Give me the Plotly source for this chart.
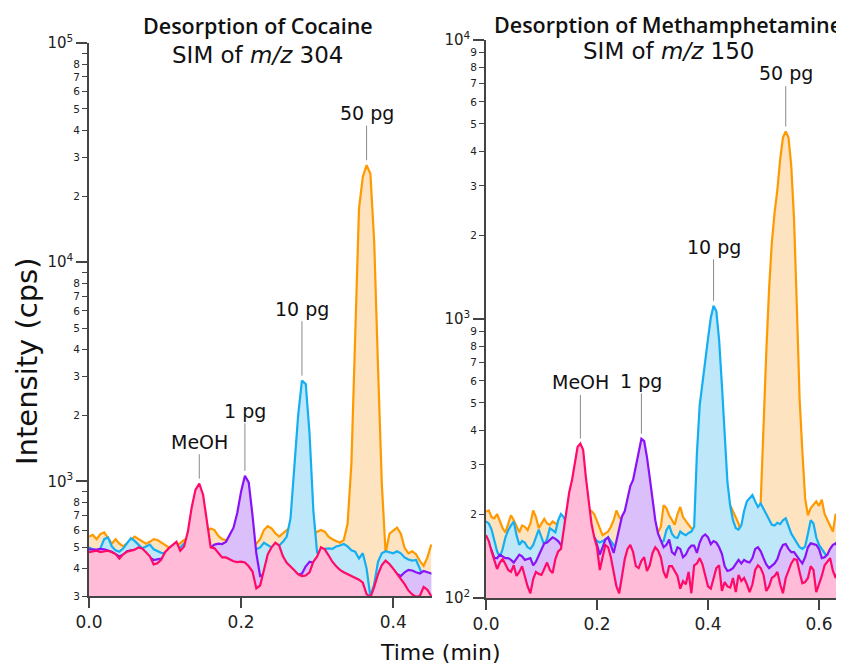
import numpy as np
import plotly.graph_objects as go

STEP = 0.005  # sampling interval of the traces (min)

# ---------------- Cocaine, SIM m/z 304 (left panel) ----------------
left_meoh = [475, 478, 483, 476, 478, 483, 475, 466, 445, 465,
             478, 483, 488, 500, 494, 475, 455, 418, 423, 440,
             475, 496, 515, 530, 483, 505, 590, 760, 915, 976,
             870, 640, 500, 495, 470, 450, 450, 440, 432, 428,
             430, 427, 410, 388, 325, 335, 400, 465, 500, 525,
             510, 455, 425, 410, 393, 377, 370, 372, 385, 430,
             455, 500, 490, 460, 430, 410, 395, 385, 378, 372,
             364, 356, 345, 306, 296, 330, 377, 415, 435, 420,
             400, 380, 360, 340, 318, 305, 298, 300, 330, 320,
             300]
left_1pg = [490, 490, 488, 492, 490, 483, 478, 466, 455, 462,
            480, 485, 483, 488, 485, 470, 450, 438, 440, 445,
            455, 480, 500, 490, 480, 490, 495, 490, 480, 470,
            480, 490, 500, 515, 520, 518, 530, 570, 615, 720,
            900, 1060, 990, 700, 470, 370, 375, 400, 440, 440,
            420, 400, 390, 385, 380, 375, 380, 410, 430, 425,
            430, 440, 470, 445, 415, 400, 385, 375, 368, 362,
            355, 348, 338, 300, 294, 320, 365, 400, 420, 410,
            395, 378, 370, 385, 395, 392, 385, 380, 390, 385,
            380]
left_10pg = [500, 490, 480, 495, 545, 555, 505, 485, 478, 495,
             520, 550, 535, 515, 495, 505, 515, 490, 480, 472,
             470, 480, 490, 495, 500, 520, 510, 505, 500, 500,
             505, 510, 500, 495, 490, 485, 480, 475, 470, 470,
             470, 470, 475, 480, 490, 500, 525, 510, 500, 505,
             510, 530, 560, 680, 1150, 2000, 2880, 2780, 1650, 736,
             470, 485, 492, 495, 492, 505, 510, 518, 505, 485,
             478, 445, 470, 400, 298, 340, 430, 470, 480, 475,
             470, 480, 470, 450, 440, 435, 438, 400, 360, 370,
             380]
left_50pg = [560, 570, 545, 575, 585, 550, 520, 545, 520, 505,
             520, 540, 560, 545, 530, 520, 530, 545, 540, 525,
             515, 500, 490, 505, 520, 540, 550, 560, 570, 575,
             575, 590, 610, 600, 565, 545, 540, 530, 520, 520,
             520, 520, 515, 510, 520, 545, 600, 625, 610, 580,
             560, 580, 600, 620, 600, 580, 570, 560, 560, 570,
             590, 600, 590, 560, 545, 535, 525, 540, 640, 1200,
             4780, 17500, 24500, 27700, 25300, 12400, 3340, 980, 470, 577,
             596, 615, 577, 498, 470, 480, 465, 434, 412, 450,
             515]

# ------------- Methamphetamine, SIM m/z 150 (right panel) -------------
right_meoh = [168, 160, 147, 135, 127, 134, 138, 132, 126, 124,
              131, 120, 124, 130, 120, 110, 104, 117, 124, 122,
              121, 128, 134, 126, 123, 138, 147, 150, 175, 205,
              240, 265, 310, 348, 358, 340, 270, 218, 185, 165,
              152, 126, 140, 155, 152, 140, 124, 110, 104, 118,
              138, 150, 155, 146, 130, 128, 136, 140, 125, 131,
              145, 152, 148, 140, 124, 118, 130, 130, 125, 120,
              108, 115, 112, 124, 104, 131, 133, 139, 132, 120,
              110, 108, 118, 128, 131, 106, 114, 110, 109, 118,
              105, 121, 115, 118, 112, 105, 112, 126, 131, 128,
              121, 106, 110, 118, 120, 124, 112, 104, 118, 126,
              133, 138, 137, 124, 113, 114, 118, 130, 126, 105,
              112, 120, 131, 135, 139, 125, 118, 128, 131, 127]
right_1pg = [162, 156, 148, 139, 139, 143, 141, 139, 139, 137,
             134, 138, 143, 141, 137, 138, 139, 131, 135, 142,
             150, 157, 158, 162, 165, 163, 160, 155, 150, 148,
             145, 142, 140, 140, 142, 145, 150, 155, 160, 165,
             155, 143, 152, 162, 165, 155, 145, 160, 180, 196,
             205, 230, 252, 265, 300, 335, 372, 365, 320, 270,
             225, 190, 170, 160, 152, 155, 162, 146, 143, 152,
             150, 140, 143, 150, 154, 154, 145, 158, 166, 169,
             165, 156, 160, 158, 152, 144, 130, 125, 126, 128,
             133, 137, 133, 137, 135, 134, 139, 150, 152, 147,
             139, 132, 128, 131, 133, 138, 148, 155, 156, 150,
             146, 146, 141, 137, 133, 140, 152, 157, 156, 155,
             150, 139, 140, 143, 150, 155, 157, 152, 150, 147]
right_10pg = [188, 185, 176, 160, 147, 140, 150, 165, 175, 182,
              188, 168, 155, 160, 158, 152, 150, 155, 166, 176,
              165, 155, 163, 178, 175, 172, 190, 200, 195, 185,
              175, 170, 168, 165, 165, 168, 170, 170, 168, 165,
              160, 158, 160, 162, 165, 160, 155, 150, 152, 155,
              158, 160, 162, 160, 158, 160, 162, 160, 162, 165,
              165, 164, 162, 158, 160, 175, 182, 170, 165, 164,
              173, 170, 168, 171, 173, 180, 330, 490, 580, 690,
              850, 1010, 1115, 1065, 840, 580, 380, 260, 214, 190,
              178, 176, 182, 205, 222, 228, 234, 222, 212, 218,
              208, 200, 190, 183, 182, 186, 184, 190, 193, 180,
              170, 164, 158, 152, 150, 153, 170, 190, 185, 165,
              155, 150, 145, 140, 138, 139, 155, 165, 160, 150]
right_50pg = [204, 206, 195, 193, 200, 190, 178, 172, 185, 198,
              190, 180, 172, 182, 180, 175, 185, 206, 195, 178,
              185, 192, 185, 183, 188, 185, 183, 180, 185, 190,
              195, 200, 205, 210, 212, 212, 210, 208, 205, 200,
              190, 178, 168, 170, 173, 180, 190, 206, 195, 190,
              188, 186, 185, 185, 186, 188, 190, 190, 188, 185,
              180, 175, 172, 180, 215, 210, 198, 190, 183, 200,
              212, 195, 188, 183, 178, 175, 180, 190, 195, 200,
              200, 195, 190, 185, 180, 178, 175, 172, 215, 205,
              195, 185, 168, 170, 178, 185, 190, 195, 200, 222,
              439, 762, 1280, 1880, 2410, 2910, 3730, 4470, 4700, 4470,
              3530, 2275, 1115, 518, 335, 227, 198, 210, 216, 222,
              214, 225, 200, 190, 180, 173, 200, 195, 188, 200]

t_left = [round(i * STEP, 3) for i in range(len(left_meoh))]
t_right = [round(i * STEP, 3) for i in range(len(right_meoh))]

labels = ["50 pg", "10 pg", "1 pg", "MeOH"]
line_colors = ["#FF9900", "#14AEF3", "#8A12F7", "#FF0A68"]
fill_colors = ["#FDE3BF", "#BEE7FA", "#DBBFFA", "#FFBBD7"]

x_ticks_left = [0.0, 0.2, 0.4]
x_ticks_right = [0.0, 0.2, 0.4, 0.6]

left_major = [1e3, 1e4, 1e5]
left_minor = [300, 400, 500, 600, 700, 800, 900,
              2000, 3000, 4000, 5000, 6000, 7000, 8000, 9000,
              20000, 30000, 40000, 50000, 60000, 70000, 80000, 90000]
left_minor_text = ["3", "4", "5", "6", "7", "8", " ",
                   "2", "3", "4", "5", "6", "7", "8", " ",
                   "2", "3", "4", "5", "6", "7", "8", " "]
right_major = [1e2, 1e3, 1e4]
right_minor = [200, 300, 400, 500, 600, 700, 800, 900,
               2000, 3000, 4000, 5000, 6000, 7000, 8000, 9000]
right_minor_text = ["2", "3", "4", "5", "6", "7", "8", "9",
                    "2", "3", "4", "5", "6", "7", "8", "9"]


def sup_label(v):
    return "10<sup>%d</sup>" % int(round(np.log10(v)))


FONT = "DejaVu Sans"
AX = "#444444"
TXT = "#111111"
# The page body adds an 8 px margin, so the figure is drawn 8 px in from the
# window's corner; size it to fill the rest of the 844x666 window.
OFF = 8
W, H = 844 - OFF, 666 - OFF


def px_x(p):
    """window pixel column -> paper fraction"""
    return (p - OFF) / W


def px_y(p):
    """window pixel row -> paper fraction"""
    return (H - (p - OFF)) / H


fig = go.Figure()

panels = [
    (t_left, [left_50pg, left_10pg, left_1pg, left_meoh], "x", "y"),
    (t_right, [right_50pg, right_10pg, right_1pg, right_meoh], "x2", "y2"),
]
for t, series, xa, ya in panels:
    for vals, name, lc, fc in zip(series, labels, line_colors, fill_colors):
        fig.add_trace(go.Scatter(
            x=t, y=vals, name=name, xaxis=xa, yaxis=ya, mode="lines",
            line=dict(color=lc, width=2.2), fill="tozeroy", fillcolor=fc,
            showlegend=False, hoverinfo="skip"))

# invisible carriers for the overlay (minor label) axes
fig.add_trace(go.Scatter(x=[0.1], y=[1000], xaxis="x", yaxis="y3", mode="markers",
                         marker=dict(opacity=0), showlegend=False, hoverinfo="skip"))
fig.add_trace(go.Scatter(x=[0.1], y=[1000], xaxis="x2", yaxis="y4", mode="markers",
                         marker=dict(opacity=0), showlegend=False, hoverinfo="skip"))

# peak labels
peak_offsets = [
    (t_left, left_meoh, "MeOH", -42, "x", "y"),
    (t_left, left_1pg, "1 pg", -65, "x", "y"),
    (t_left, left_10pg, "10 pg", -72, "x", "y"),
    (t_left, left_50pg, "50 pg", -52, "x", "y"),
    (t_right, right_meoh, "MeOH", -61, "x2", "y2"),
    (t_right, right_1pg, "1 pg", -58, "x2", "y2"),
    (t_right, right_10pg, "10 pg", -59, "x2", "y2"),
    (t_right, right_50pg, "50 pg", -58, "x2", "y2"),
]
for t, vals, txt, ay, xr, yr in peak_offsets:
    i = int(np.argmax(vals))
    fig.add_annotation(x=t[i], y=np.log10(vals[i]), xref=xr, yref=yr, text=txt,
                       showarrow=True, arrowhead=0, arrowwidth=1, arrowcolor="#8a8a8a",
                       ax=0, ay=ay, standoff=5, font=dict(size=19, color=TXT))

# titles
titles = [
    ("Desorption of Cocaine", 258, 26, 21.5, 600),
    ("SIM of <i>m/z</i> 304", 257, 55, 23, 400),
    ("Desorption of Methamphetamine", 668, 24, 21.5, 600),
    ("SIM of <i>m/z</i> 150", 668, 51, 23, 400),
]
for txt, x, y, size, wt in titles:
    fam = "Open Sans" if wt > 400 else FONT
    fig.add_annotation(x=px_x(x), y=px_y(y), xref="paper", yref="paper", text=txt,
                       showarrow=False, xanchor="center", yanchor="middle",
                       font=dict(family=fam, size=size, color=TXT, weight=wt))

fig.add_annotation(x=px_x(440), y=px_y(652), xref="paper", yref="paper", text="Time (min)",
                   showarrow=False, xanchor="center", yanchor="middle",
                   font=dict(size=22, color=TXT))
fig.add_annotation(x=px_x(27), y=px_y(361), xref="paper", yref="paper",
                   text="Intensity (cps)", showarrow=False, textangle=-90,
                   xanchor="center", yanchor="middle", borderpad=0,
                   font=dict(size=29, color=TXT))

common_x = dict(ticks="outside", ticklen=10, tickwidth=1.5, tickcolor=AX, showline=True,
                linecolor=AX, linewidth=1.5, showgrid=False, zeroline=False,
                automargin=False, tickfont=dict(size=17, color="#222222"))
major_y = dict(type="log", ticks="outside", ticklen=11, tickwidth=1.5, tickcolor=AX,
               showline=True, linecolor=AX, linewidth=1.5, showgrid=False, zeroline=False,
               automargin=False, tickfont=dict(size=15, color="#222222"))
minor_y = dict(type="log", ticks="outside", ticklen=6, tickwidth=1.3, tickcolor=AX,
               showline=False, showgrid=False, zeroline=False, side="left",
               automargin=False, tickfont=dict(size=10.5, color="#222222"))

fig.update_layout(
    width=W, height=H, margin=dict(l=0, r=0, t=0, b=0, autoexpand=False),
    paper_bgcolor="white", plot_bgcolor="white", showlegend=False,
    font=dict(family=FONT, color="#222222"),
    xaxis=dict(domain=[px_x(89), px_x(432)], range=[0, 0.451], anchor="y",
               tickvals=x_ticks_left, ticktext=["%.1f" % v for v in x_ticks_left], **common_x),
    xaxis2=dict(domain=[px_x(486), 1.0], range=[0, 0.645], anchor="y2",
                tickvals=x_ticks_right, ticktext=["%.1f" % v for v in x_ticks_right], **common_x),
    yaxis=dict(domain=[px_y(596), px_y(43)], range=[np.log10(300), 5],
               anchor="x", tickvals=left_major, ticktext=[sup_label(v) for v in left_major],
               **major_y),
    yaxis3=dict(overlaying="y", anchor="x", range=[np.log10(300), 5],
                tickvals=left_minor, ticktext=left_minor_text, **minor_y),
    yaxis2=dict(domain=[px_y(598), px_y(40)], range=[2, 4],
                anchor="x2", tickvals=right_major, ticktext=[sup_label(v) for v in right_major],
                **major_y),
    yaxis4=dict(overlaying="y2", anchor="x2", range=[2, 4],
                tickvals=right_minor, ticktext=right_minor_text, **minor_y),
)

fig.write_html("out.html")
